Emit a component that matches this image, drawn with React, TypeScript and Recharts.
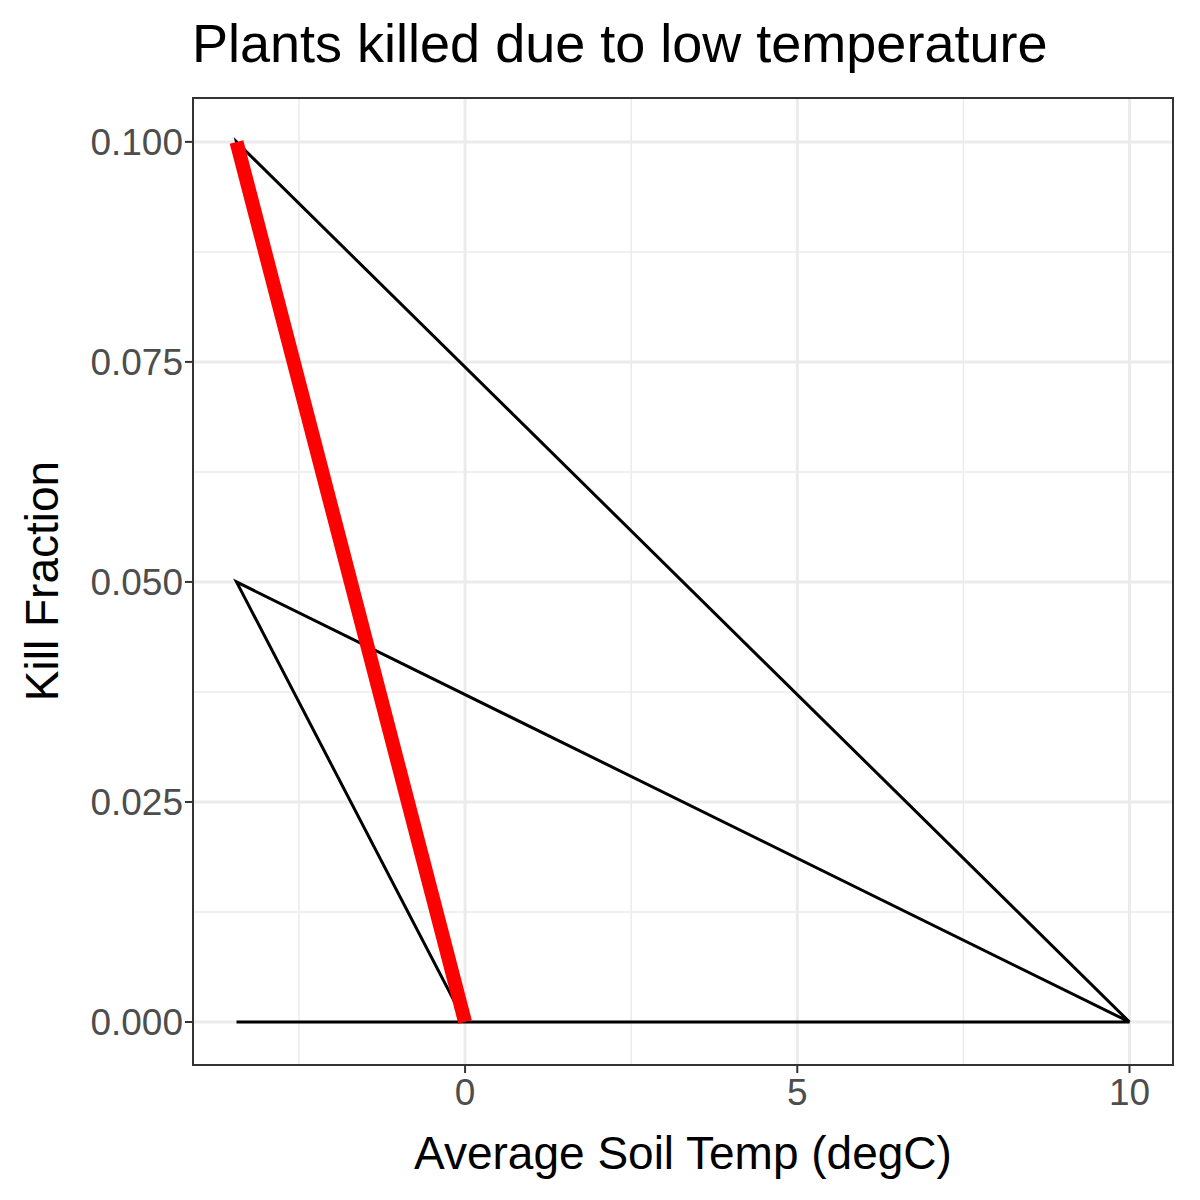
import React from "react";
import { LineChart, Line, XAxis, YAxis, CartesianGrid, ReferenceLine } from "recharts";

const blackX = [-3.44, 10, -3.44, 0, -3.44, 10];
const blackY = [0, 0, 0.05, 0, 0.1, 0];
const redX = [-3.44, 0];
const redY = [0.1, 0];
const xTicks = [0, 5, 10];
const yTicks = [0, 0.025, 0.05, 0.075, 0.1];
const xMinor = [-2.5, 2.5, 7.5];
const yMinor = [0.0125, 0.0375, 0.0625, 0.0875];

const blackData = blackX.map((x, i) => ({ x, y: blackY[i] }));
const redData = redX.map((x, i) => ({ x, y: redY[i] }));

export default function App() {
  const tick = { fill: "#4d4d4d", fontSize: 37, fontFamily: "Liberation Sans, Arial" };
  return (
    <div style={{ position: "absolute", left: 0, top: 0, width: 1200, height: 1200, background: "#fff", fontFamily: "Liberation Sans, Arial" }}>
      <div style={{ position: "absolute", left: 192, top: 12, fontSize: 54, color: "#000", whiteSpace: "nowrap" }}>Plants killed due to low temperature</div>
      <LineChart width={1200} height={1200} margin={{ top: 97, right: 26, bottom: 84, left: 92 }}>
        <CartesianGrid stroke="#ebebeb" strokeWidth={3} verticalValues={xTicks} horizontalValues={yTicks} />
        {xMinor.map((v) => <ReferenceLine key={"x" + v} x={v} stroke="#ebebeb" strokeWidth={1.5} />)}
        {yMinor.map((v) => <ReferenceLine key={"y" + v} y={v} stroke="#ebebeb" strokeWidth={1.5} />)}
        <XAxis type="number" dataKey="x" domain={[-4.11, 10.67]} ticks={xTicks} allowDataOverflow height={50}
          tick={tick} tickLine={{ stroke: "#333", strokeWidth: 2 }} tickSize={7} tickMargin={6} axisLine={false} />
        <YAxis type="number" dataKey="y" domain={[-0.005, 0.1051]} ticks={yTicks} allowDataOverflow width={100}
          tick={tick} tickFormatter={(v: number) => v.toFixed(3)} tickLine={{ stroke: "#333", strokeWidth: 2 }} tickSize={7} axisLine={false} />
        <Line data={blackData} dataKey="y" stroke="#000" strokeWidth={3} dot={false} isAnimationActive={false} />
        <Line data={redData} dataKey="y" stroke="#ff0000" strokeWidth={14} dot={false} isAnimationActive={false} />
      </LineChart>
      <div style={{ position: "absolute", left: 192, top: 97, width: 982, height: 969, border: "2px solid #333", boxSizing: "border-box", pointerEvents: "none" }} />
      <div style={{ position: "absolute", left: 192, width: 982, top: 1126, textAlign: "center", fontSize: 46, color: "#000" }}>Average Soil Temp (degC)</div>
      <div style={{ position: "absolute", left: 42, top: 581, transform: "translate(-50%,-50%) rotate(-90deg)", fontSize: 46, color: "#000", whiteSpace: "nowrap" }}>Kill Fraction</div>
    </div>
  );
}
